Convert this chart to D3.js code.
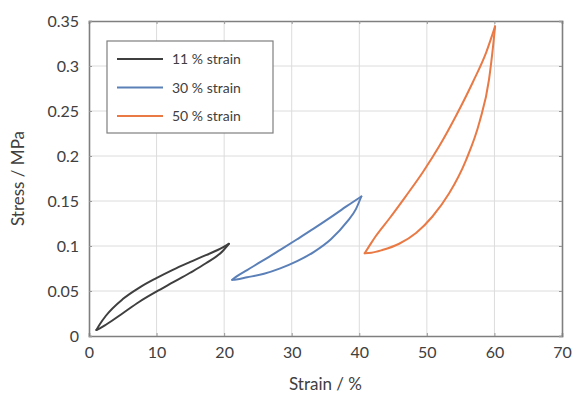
<!DOCTYPE html>
<html>
<head>
<meta charset="utf-8">
<script src="https://cdn.jsdelivr.net/npm/d3@7"></script>
<style>
  body { margin: 0; background: #fff; }
  svg { display: block; font-family: Lato, "Open Sans", sans-serif; }
</style>
</head>
<body>
<svg id="chart" width="576" height="398"></svg>
<script>
// ---- data ----
const xTicks = [0, 10, 20, 30, 40, 50, 60, 70];
const yTicks = [0, 0.05, 0.1, 0.15, 0.2, 0.25, 0.3, 0.35];
const seriesNames = ['11 % strain', '30 % strain', '50 % strain'];
const seriesColors = ['#3f3f3f', '#5b80b8', '#e97a45'];

// each loop: upper branch and lower branch, both running from the low tip to the high tip
const upper11 = [[1.1, 0.0067], [1.6, 0.013], [2.5, 0.0225], [5.0, 0.041], [7.4, 0.0535], [9.9, 0.064], [12.4, 0.0735], [14.9, 0.082], [17.3, 0.0898], [19.8, 0.0985], [20.7, 0.1025]];
const lower11 = [[1.1, 0.0067], [1.6, 0.0085], [2.5, 0.0125], [5.0, 0.0253], [7.4, 0.0378], [9.9, 0.049], [12.4, 0.0595], [14.9, 0.070], [17.3, 0.0808], [19.8, 0.0945], [20.7, 0.1025]];

const upper30 = [[21.2, 0.0624], [21.8, 0.066], [23.4, 0.0733], [25.9, 0.0845], [28.3, 0.0957], [30.8, 0.1075], [33.3, 0.1195], [35.8, 0.132], [38.2, 0.1445], [40.3, 0.155]];
const lower30 = [[21.2, 0.0624], [21.8, 0.0628], [23.4, 0.0652], [25.9, 0.0692], [28.3, 0.0752], [30.8, 0.0832], [33.3, 0.0935], [35.8, 0.1075], [38.2, 0.127], [39.5, 0.141], [40.3, 0.155]];

const upper50 = [[40.8, 0.092], [41.4, 0.099], [42.4, 0.1105], [44.4, 0.130], [46.9, 0.1555], [49.4, 0.182], [51.8, 0.2105], [54.3, 0.2445], [56.8, 0.282], [58.8, 0.3155], [60.1, 0.344]];
const lower50 = [[40.8, 0.092], [41.8, 0.0925], [43.4, 0.0955], [45.9, 0.1025], [48.4, 0.1145], [50.8, 0.1325], [53.3, 0.1585], [55.8, 0.1955], [57.8, 0.238], [59.2, 0.285], [59.8, 0.322], [60.1, 0.344]];

const loops = [[upper11, lower11], [upper30, lower30], [upper50, lower50]];

// ---- layout ----
const margin = { left: 89, top: 21, right: 14, bottom: 62 };
const width = 576, height = 398;
const plotW = width - margin.left - margin.right;
const plotH = height - margin.top - margin.bottom;

const svg = d3.select('#chart');
const g = svg.append('g').attr('transform', `translate(${margin.left},${margin.top})`);

const x = d3.scaleLinear().domain([0, 70]).range([0, plotW]);
const y = d3.scaleLinear().domain([0, 0.35]).range([plotH, 0]);

// grid
g.append('g').selectAll('line').data(xTicks.slice(1, -1)).enter().append('line')
  .attr('x1', d => x(d)).attr('x2', d => x(d)).attr('y1', 0).attr('y2', plotH)
  .attr('stroke', '#dcdcdc').attr('stroke-width', 1);
g.append('g').selectAll('line').data(yTicks.slice(1, -1)).enter().append('line')
  .attr('y1', d => y(d)).attr('y2', d => y(d)).attr('x1', 0).attr('x2', plotW)
  .attr('stroke', '#dcdcdc').attr('stroke-width', 1);

// axes
const axisColor = '#7f7f7f';
const labelColor = '#404040';
const xAxis = g.append('g').attr('transform', `translate(0,${plotH})`)
  .call(d3.axisBottom(x).tickValues(xTicks).tickSize(-3).tickPadding(11).tickFormat(d3.format('d')));
const xAxisTop = g.append('g')
  .call(d3.axisTop(x).tickValues(xTicks).tickSize(-3).tickFormat(''));
const yAxis = g.append('g')
  .call(d3.axisLeft(y).tickValues(yTicks).tickSize(-3).tickPadding(10).tickFormat(d => d === 0 ? '0' : String(+d.toFixed(2))));
const yAxisRight = g.append('g').attr('transform', `translate(${plotW},0)`)
  .call(d3.axisRight(y).tickValues(yTicks).tickSize(-3).tickFormat(''));

[xAxis, xAxisTop, yAxis, yAxisRight].forEach(a => {
  a.select('.domain').attr('stroke', axisColor).attr('stroke-width', 1.6);
  a.selectAll('.tick line').attr('stroke', '#999');
  a.selectAll('.tick text').attr('fill', labelColor).style('font-size', '16px').style('font-family', 'Lato, "Open Sans", sans-serif');
});

// axis titles
svg.append('text')
  .attr('x', margin.left + plotW / 2).attr('y', 390)
  .attr('text-anchor', 'middle').attr('fill', labelColor).style('font-size', '17px')
  .text('Strain / %');
svg.append('text')
  .attr('transform', `translate(24,${margin.top + plotH / 2}) rotate(-90)`)
  .attr('text-anchor', 'middle').attr('fill', labelColor).style('font-size', '17px')
  .text('Stress / MPa');

// loops: each branch drawn as its own smooth path, meeting at the tips
const line = d3.line().x(d => x(d[0])).y(d => y(d[1])).curve(d3.curveMonotoneX);
loops.forEach((branches, i) => {
  branches.forEach(pts => {
    g.append('path')
      .attr('d', line(pts))
      .attr('fill', 'none')
      .attr('stroke', seriesColors[i])
      .attr('stroke-width', 2)
      .attr('stroke-linecap', 'round')
      .attr('stroke-linejoin', 'round');
  });
});

// legend
const legend = svg.append('g').attr('transform', 'translate(107,41)');
legend.append('rect').attr('width', 166).attr('height', 92)
  .attr('fill', '#fff').attr('stroke', axisColor).attr('stroke-width', 1.2);
seriesNames.forEach((name, i) => {
  const ly = 18 + i * 28.5;
  legend.append('line').attr('x1', 10).attr('x2', 56).attr('y1', ly).attr('y2', ly)
    .attr('stroke', seriesColors[i]).attr('stroke-width', 2);
  legend.append('text').attr('x', 65).attr('y', ly + 5)
    .attr('fill', labelColor).style('font-size', '14px').text(name);
});
</script>
</body>
</html>
